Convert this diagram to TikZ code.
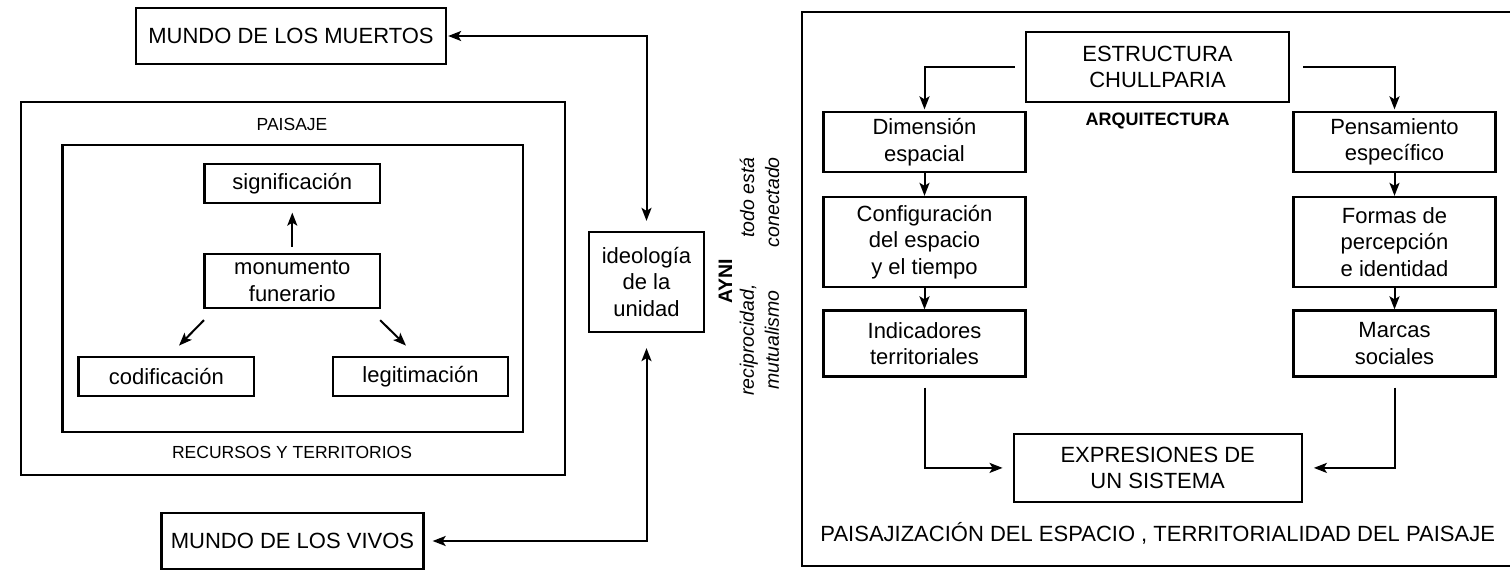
\documentclass[tikz,border=0pt]{standalone}
\usepackage{fontspec}
\setmainfont{Liberation Sans}
\usetikzlibrary{arrows.meta,calc}
\begin{document}
\begin{tikzpicture}[x=1pt,y=-1pt,
  box/.style={draw, line width=2.3pt, inner sep=0pt, align=center, font=\fontsize{22}{26.4}\selectfont},
  outerbox/.style={draw, line width=2.3pt, inner sep=0pt},
  conn/.style={line width=2pt, -{Stealth[length=13pt,width=10pt,inset=3pt]}},
  dconn/.style={line width=2pt, {Stealth[length=13pt,width=10pt,inset=3pt]}-{Stealth[length=13pt,width=10pt,inset=3pt]}},
  lbl/.style={inner sep=0pt, font=\fontsize{17.5}{21}\selectfont},
  ]
\useasboundingbox (0,0) rectangle (1510,570);
% ---------- left part ----------
\node[box, minimum width=310pt, minimum height=56pt] (muertos) at (291,36) {MUNDO DE LOS MUERTOS};
\node[outerbox, minimum width=544pt, minimum height=373pt] (paisaje) at (293,288.5) {};
\node[outerbox, minimum width=460.5pt, minimum height=287pt] (interior) at (292.75,288.5) {};
\node[lbl] (tpaisaje) at (292,124) {PAISAJE};
\node[lbl] (trecursos) at (292,452) {RECURSOS Y TERRITORIOS};
\node[box, minimum width=175.4pt, minimum height=39pt] (sig) at (292.3,183.5) {significación};
\node[box, minimum width=175.4pt, minimum height=54pt] (mon) at (292.3,281) {monumento\\funerario};
\node[box, minimum width=175.4pt, minimum height=39.3pt] (cod) at (166.3,376.4) {codificación};
\node[box, minimum width=175.4pt, minimum height=39.3pt] (leg) at (420.5,376.4) {legitimación};
\node[box, minimum width=262pt, minimum height=56pt] (vivos) at (292.5,541) {MUNDO DE LOS VIVOS};
\node[box, minimum width=115pt, minimum height=100pt] (ideo) at (646.5,282) {ideología\\de la\\unidad};
\node[inner sep=0pt, rotate=90, font=\bfseries\fontsize{19.5}{23}\selectfont] (ayni) at (725.5,281.5) {AYNI};
\node[inner sep=0pt, rotate=90, anchor=east, align=right, font=\itshape\fontsize{19.5}{25}\selectfont] (todo) at (759.5,157) {todo está\\conectado};
\node[inner sep=0pt, rotate=90, align=center, font=\itshape\fontsize{19.5}{25}\selectfont] (recip) at (759.5,340) {reciprocidad,\\mutualismo};
\draw[conn, shorten <=6pt, shorten >=8.5pt] (mon.north) -- (sig.south);
\draw[conn] ($(mon.south west)+(0.5,11)$) -- ($(cod.north)+(12.7,-10)$);
\draw[conn] ($(mon.south east)+(-1,11)$) -- ($(leg.north)+(-14.5,-10)$);
\draw[dconn, shorten <=1pt, shorten >=10pt] (muertos.east) -| (ideo.north);
\draw[dconn, shorten <=8pt, shorten >=15pt] (vivos.east) -| (ideo.south);
% ---------- right part ----------
\node[outerbox, minimum width=710pt, minimum height=554pt] (right) at (1157,289) {};
\node[box, minimum width=263pt, minimum height=70pt] (estr) at (1157.5,67) {ESTRUCTURA\\CHULLPARIA};
\node[inner sep=0pt, font=\bfseries\fontsize{18}{21}\selectfont] (arq) at (1157.7,121) {ARQUITECTURA};
\node[box, minimum width=202pt, minimum height=60pt] (dim) at (924.5,142) {Dimensión\\espacial};
\node[box, minimum width=202pt, minimum height=90pt] (conf) at (924.5,242) {Configuración\\del espacio\\y el tiempo};
\node[box, minimum width=202pt, minimum height=66pt] (ind) at (924.5,343.5) {Indicadores\\territoriales};
\node[box, minimum width=202pt, minimum height=60pt] (pens) at (1394.5,142) {Pensamiento\\específico};
\node[box, minimum width=202pt, minimum height=90pt] (formas) at (1394.5,242) {Formas de\\percepción\\e identidad};
\node[box, minimum width=202pt, minimum height=66pt] (marcas) at (1394.5,343.5) {Marcas\\sociales};
\node[box, minimum width=288pt, minimum height=67.7pt] (expr) at (1157.7,467.9) {EXPRESIONES DE\\UN SISTEMA};
\node[inner sep=0pt, font=\fontsize{22}{26.4}\selectfont] (paisajiz) at (1157.7,533) {PAISAJIZACIÓN DEL ESPACIO , TERRITORIALIDAD DEL PAISAJE};
\draw[conn, shorten <=10pt, shorten >=1.5pt] (estr.west) -| (dim.north);
\draw[conn, shorten <=13pt, shorten >=1.5pt] (estr.east) -| (pens.north);
\draw[conn] (dim.south) -- (conf.north);
\draw[conn] (conf.south) -- (ind.north);
\draw[conn] (pens.south) -- (formas.north);
\draw[conn] (formas.south) -- (marcas.north);
\draw[conn, shorten <=10pt, shorten >=10pt] (ind.south) |- (expr.west);
\draw[conn, shorten <=10pt, shorten >=11pt] (marcas.south) |- (expr.east);
\end{tikzpicture}
\end{document}
